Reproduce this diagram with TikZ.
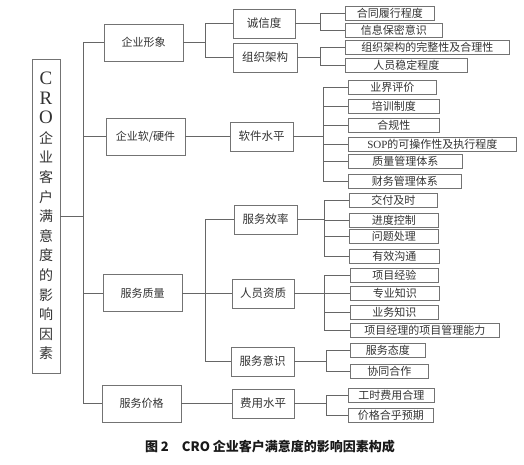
\documentclass[tikz,border=0pt]{standalone}
\usepackage{fontspec}
\setmainfont{Noto Sans CJK SC}
\newfontfamily\latserif{Liberation Serif}
\usetikzlibrary{positioning}
\tikzset{
  box/.style={rectangle, draw=black!55, line width=0.8pt, text=black!80,
              inner sep=0pt, align=center},
  rootbox/.style={box, minimum width=28pt, minimum height=314pt,
                  font=\fontsize{14}{19.6}\selectfont},
  lvone/.style={box, minimum width=79pt, minimum height=37pt,
                font=\fontsize{11}{13}\selectfont},
  lvtwo/.style={box, minimum width=62pt, minimum height=29pt,
                font=\fontsize{11.5}{13}\selectfont},
  leaf/.style={box, anchor=west, minimum height=14pt,
               font=\fontsize{11}{13}\selectfont},
  link/.style={draw=black!60, line width=0.8pt},
  caption/.style={font=\fontsize{13}{15}\selectfont\bfseries, text=black!90},
}
\newcommand{\rootlat}[1]{{\latserif\fontsize{19}{19.6}\selectfont #1}}

\begin{document}
\begin{tikzpicture}[x=1pt, y=-1pt]
  \path[fill=white, use as bounding box] (0,0) rectangle (524,464);

  % root and first level
  \node[rootbox] (root) at (46,216)
    {\rootlat{C}\\\rootlat{R}\\\rootlat{O}\\企\\业\\客\\户\\满\\意\\度\\的\\影\\响\\因\\素};
  \node[lvone] (image)   at (143.5,42.5) {企业形象};
  \node[lvone] (hard)    at (145.5,136.5) {企业软/硬件};
  \node[lvone] (quality) at (142.5,293) {服务质量};
  \node[lvone] (price)   at (141.5,403.5) {服务价格};

  % second level
  \node[lvtwo] (honest) at (264,23.5) {诚信度};
  \node[lvtwo, minimum width=64pt] (org) at (265,57.5) {组织架构};
  \node[lvtwo, minimum width=63pt] (soft) at (261.5,136.5) {软件水平};
  \node[lvtwo, minimum width=63pt] (eff) at (265.5,219.5) {服务效率};
  \node[lvtwo] (staff) at (263,293.5) {人员资质};
  \node[lvtwo, minimum width=63pt] (aware) at (262.5,361.5) {服务意识};
  \node[lvtwo] (cost) at (263,403.5) {费用水平};

  % leaves
  \node[leaf, minimum width=89pt]  (contract) at (345,13)   {合同履行程度};
  \node[leaf, minimum width=97pt]  (secret)   at (345,30.5) {信息保密意识};
  \node[leaf, minimum width=164pt] (struct)   at (345,47.5) {组织架构的完整性及合理性};
  \node[leaf, minimum width=122pt] (stable)   at (345,65.5) {人员稳定程度};
  \node[leaf, minimum width=88pt]  (repute)   at (348,87)   {业界评价};
  \node[leaf, minimum width=91pt]  (train)    at (348,106)  {培训制度};
  \node[leaf, minimum width=91pt]  (comply)   at (348,125)  {合规性};
  \node[leaf, minimum width=168pt] (sop)      at (348,144.5) {{\latserif SOP}的可操作性及执行程度};
  \node[leaf, minimum width=114pt] (qms)      at (348,161)  {质量管理体系};
  \node[leaf, minimum width=113pt] (fms)      at (348,181)  {财务管理体系};
  \node[leaf, minimum width=88pt]  (deliver)  at (349,200.5) {交付及时};
  \node[leaf, minimum width=89pt]  (progress) at (349,220)  {进度控制};
  \node[leaf, minimum width=89pt]  (issue)    at (349,236)  {问题处理};
  \node[leaf, minimum width=90pt]  (talk)     at (349,256)  {有效沟通};
  \node[leaf, minimum width=88pt]  (exp)      at (350,275.5) {项目经验};
  \node[leaf, minimum width=89pt]  (pro)      at (350,293.5) {专业知识};
  \node[leaf, minimum width=88pt]  (biz)      at (350,312)  {业务知识};
  \node[leaf, minimum width=149pt] (pm)       at (350,330)  {项目经理的项目管理能力};
  \node[leaf, minimum width=75pt]  (attitude) at (350,350)  {服务态度};
  \node[leaf, minimum width=78pt]  (coop)     at (350,371.5) {协同合作};
  \node[leaf, minimum width=86pt]  (hours)    at (348,395)  {工时费用合理};
  \node[leaf, minimum width=85pt]  (expect)   at (348,415.5) {价格合乎预期};

  % junctions
  \coordinate (trunk) at (83,216);
  \coordinate (jimage) at (205,42.5);
  \coordinate (jquality) at (205,293);
  \coordinate (jhonest) at (320,23.5);
  \coordinate (jorg) at (320,57.5);
  \coordinate (jsoft) at (323,136.5);
  \coordinate (jeff) at (324,219.5);
  \coordinate (jstaff) at (324,293.5);
  \coordinate (jaware) at (326,361.5);
  \coordinate (jcost) at (326,403.5);

  % connectors
  \draw[link] (root.east) -- (trunk);
  \draw[link] (image.west) -| (trunk);
  \draw[link] (hard.west) -| (trunk);
  \draw[link] (quality.west) -| (trunk);
  \draw[link] (price.west) -| (trunk);

  \draw[link] (image.east) -- (jimage);
  \draw[link] (honest.west) -| (jimage);
  \draw[link] (org.west) -| (jimage);
  \draw[link] (hard.east) -- (soft.west);
  \draw[link] (quality.east) -- (jquality);
  \draw[link] (eff.west) -| (jquality);
  \draw[link] (staff.west) -| (jquality);
  \draw[link] (aware.west) -| (jquality);
  \draw[link] (price.east) -- (cost.west);

  \draw[link] (honest.east) -- (jhonest);
  \draw[link] (contract.west) -| (jhonest);
  \draw[link] (secret.west) -| (jhonest);
  \draw[link] (org.east) -- (jorg);
  \draw[link] (struct.west) -| (jorg);
  \draw[link] (stable.west) -| (jorg);

  \draw[link] (soft.east) -- (jsoft);
  \draw[link] (repute.west) -| (jsoft);
  \draw[link] (train.west) -| (jsoft);
  \draw[link] (comply.west) -| (jsoft);
  \draw[link] (sop.west) -| (jsoft);
  \draw[link] (qms.west) -| (jsoft);
  \draw[link] (fms.west) -| (jsoft);

  \draw[link] (eff.east) -- (jeff);
  \draw[link] (deliver.west) -| (jeff);
  \draw[link] (progress.west) -| (jeff);
  \draw[link] (issue.west) -| (jeff);
  \draw[link] (talk.west) -| (jeff);

  \draw[link] (staff.east) -- (jstaff);
  \draw[link] (exp.west) -| (jstaff);
  \draw[link] (pro.west) -| (jstaff);
  \draw[link] (biz.west) -| (jstaff);
  \draw[link] (pm.west) -| (jstaff);

  \draw[link] (aware.east) -- (jaware);
  \draw[link] (attitude.west) -| (jaware);
  \draw[link] (coop.west) -| (jaware);

  \draw[link] (cost.east) -- (jcost);
  \draw[link] (hours.west) -| (jcost);
  \draw[link] (expect.west) -| (jcost);

  \node[caption] (title) at (270,447) {图 2\quad CRO 企业客户满意度的影响因素构成};
\end{tikzpicture}
\end{document}
